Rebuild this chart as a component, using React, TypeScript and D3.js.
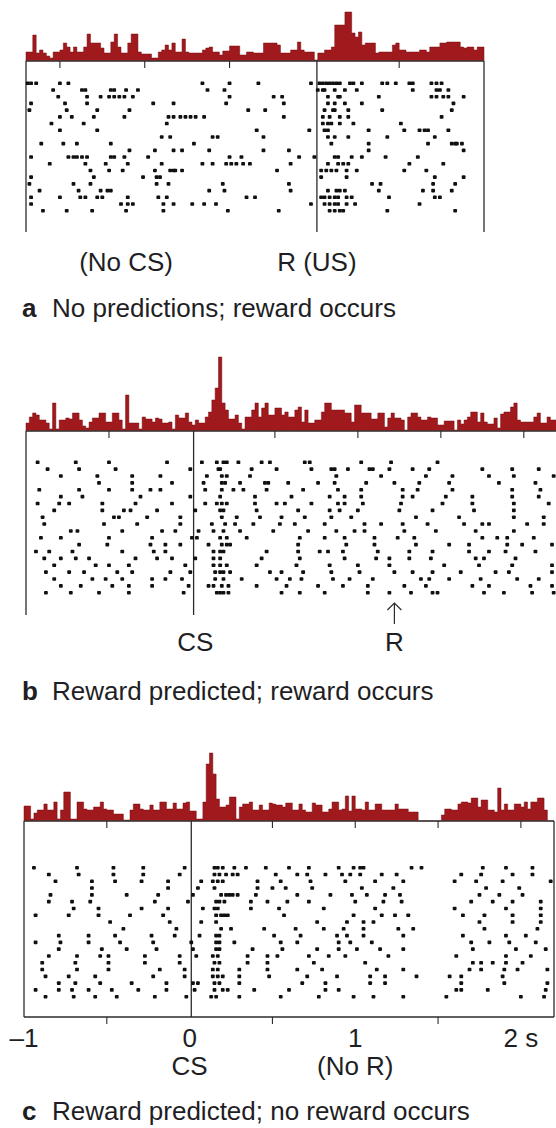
import React, { useRef, useEffect } from "react";
import * as d3 from "d3";

// bin width of the PSTH histograms (s)
const BIN = 0.02;

// ---- panel a : no CS, reward at t = 0 ----
const startA = -1.7;
const endA = 1.0;
const eventsA = [0.015];
const ticksA = [-1.5, -1, -0.5, 0.5];
const histA = [
  9, 9, 26, 8, 11, 8, 5, 3, 9, 9,
  11, 18, 14, 9, 14, 9, 9, 14, 27, 18,
  18, 18, 13, 8, 8, 19, 27, 14, 8, 8,
  18, 27, 27, 9, 7, 7, 7, 3, 3, 9,
  11, 16, 11, 18, 9, 9, 22, 9, 8, 8,
  8, 8, 11, 13, 14, 9, 9, 6, 10, 10,
  15, 15, 15, 6, 6, 9, 9, 8, 8, 8,
  18, 18, 18, 18, 16, 8, 8, 8, 11, 11,
  19, 11, 9, 9, 9, 1, 8, 8, 11, 11,
  14, 36, 36, 36, 49, 49, 28, 24, 29, 16,
  18, 18, 18, 8, 9, 9, 9, 9, 16, 18,
  11, 11, 9, 9, 9, 9, 11, 11, 9, 14,
  14, 14, 18, 18, 19, 19, 19, 19, 14, 13,
  14, 14, 11, 14, 14,
];
const rasterA = [
  [-1.69, -1.67, -1.64, -1.5, -1.45, -0.66, -0.5, -0.33, -0.02, 0.03, 0.05, 0.07, 0.09, 0.11, 0.13, 0.15, 0.21, 0.23, 0.28, 0.4, 0.43, 0.48, 0.56, 0.58, 0.69, 0.72, 0.75],
  [-1.54, -1.37, -1.35, -1.2, -1.18, -1.11, -1.04, -0.63, -0.53, 0.02, 0.05, 0.06, 0.12, 0.18, 0.25, 0.58, 0.72, 0.74, 0.79],
  [-1.51, -1.34, -1.26, -1.21, -1.18, -1.15, -1.12, -1.07, -0.5, -0.24, -0.19, 0.08, 0.14, 0.15, 0.38, 0.69, 0.72, 0.76, 0.79, 0.88],
  [-1.67, -1.47, -1.34, -0.95, -0.83, -0.52, -0.18, 0.08, 0.12, 0.18, 0.28, 0.82],
  [-1.68, -1.46, -1.28, -1.09, -0.39, -0.29, 0.06, 0.11, 0.12, 0.2, 0.4, 0.81],
  [-1.5, -1.43, -1.3, -1.12, -0.86, -0.83, -0.79, -0.76, -0.73, -0.7, -0.65, -0.18, 0.05, 0.09, 0.15, 0.2, 0.75],
  [-1.55, -1.36, -0.87, 0.05, 0.08, 0.1, 0.15, 0.23, 0.51],
  [-1.5, -1.28, -0.34, -0.03, 0.06, 0.08, 0.32, 0.53, 0.62, 0.65, 0.67, 0.79],
  [-0.9, -0.85, -0.6, -0.57, -0.3, 0.08, 0.12, 0.2, 0.43, 0.71],
  [-1.61, -1.48, -1.4, -1.2, -0.71, 0.1, 0.32, 0.67, 0.81, 0.83, 0.84, 0.87],
  [-1.09, -0.94, -0.83, -0.78, -0.62, -0.3, -0.15, 0.32, 0.88],
  [-1.67, -1.45, -1.42, -1.4, -1.37, -1.34, -1.2, -1.18, -1.12, -0.98, -0.5, -0.43, -0.09, 0.0, 0.12, 0.14, 0.22, 0.28, 0.42, 0.61],
  [-1.56, -1.35, -1.23, -1.1, -0.9, -0.66, -0.6, -0.52, -0.49, -0.46, -0.42, -0.38, -0.14, 0.08, 0.14, 0.17, 0.2, 0.56, 0.76],
  [-1.32, -1.21, -1.13, -0.94, -0.85, -0.83, -0.82, -0.78, -0.22, 0.04, 0.07, 0.1, 0.13, 0.19, 0.25, 0.53, 0.66],
  [-1.67, -1.3, -1.01, -0.93, -0.91, 0.04, 0.19, 0.71, 0.88],
  [-1.68, -1.42, -1.32, -0.93, -0.86, -0.54, -0.15, 0.34, 0.39, 0.7, 0.83],
  [-1.62, -1.39, -1.26, -1.22, -1.2, -0.62, -0.53, -0.14, 0.08, 0.13, 0.15, 0.18, 0.38, 0.64, 0.7, 0.81],
  [-1.67, -1.5, -1.38, -1.35, -1.28, -1.25, -1.1, -0.92, -0.87, -0.4, -0.35, 0.04, 0.06, 0.09, 0.12, 0.14, 0.19, 0.22, 0.44, 0.71, 0.74],
  [-1.67, -1.14, -1.1, -1.07, -0.89, -0.83, -0.72, -0.65, -0.58, -0.02, 0.06, 0.09, 0.12, 0.14, 0.19, 0.24, 0.62],
  [-1.6, -1.46, -1.31, -1.11, -0.89, -0.51, -0.21, 0.09, 0.12, 0.15, 0.17, 0.43, 0.83],
];
const labelsA = ["(No CS)", "R (US)"];
const labelTimesA = [-1.11, 0.015];

// ---- panel b : CS at t = 0, reward predicted and delivered ----
const startB = -1;
const endB = 2.2;
const eventsB = [0.01];
const ticksB = [-0.5, 0.5, 1, 1.5, 2];
const rewardB = 1.22;
const histB = [
  8, 14, 18, 16, 11, 11, 8, 2, 28, 2,
  11, 11, 13, 12, 18, 18, 11, 5, 3, 9,
  13, 13, 18, 18, 9, 9, 18, 18, 11, 2,
  36, 8, 8, 8, 2, 14, 12, 12, 9, 13,
  12, 8, 8, 9, 2, 16, 13, 13, 18, 9,
  6, 11, 8, 8, 14, 19, 31, 43, 74, 28,
  21, 12, 12, 16, 8, 2, 14, 14, 21, 28,
  14, 23, 28, 16, 16, 23, 23, 16, 19, 14,
  14, 21, 24, 9, 21, 8, 8, 11, 11, 19,
  28, 28, 21, 21, 21, 21, 18, 18, 9, 26,
  26, 18, 18, 18, 12, 12, 18, 18, 4, 13,
  18, 13, 13, 11, 1, 14, 18, 18, 14, 11,
  11, 14, 13, 13, 6, 6, 10, 10, 10, 1,
  11, 7, 11, 14, 19, 19, 9, 18, 9, 7,
  7, 13, 3, 17, 19, 19, 24, 28, 11, 9,
  9, 9, 9, 14, 18, 8, 8, 14, 11, 11,
];
const rasterB = [
  [-0.93, -0.7, -0.5, -0.15, 0.06, 0.15, 0.19, 0.21, 0.28, 0.42, 0.47, 0.68, 0.71, 1.02, 1.2, 1.48],
  [-0.87, -0.68, -0.46, -0.01, 0.16, 0.17, 0.36, 0.51, 0.72, 0.84, 0.86, 0.94, 1.07, 1.09, 1.19, 1.33, 1.43, 1.75, 1.93, 2.09],
  [-0.79, -0.57, -0.36, -0.19, 0.09, 0.18, 0.21, 0.35, 0.87, 1.14, 1.41, 1.57, 1.79, 1.94, 2.18],
  [-0.56, -0.36, -0.12, 0.07, 0.18, 0.2, 0.29, 0.44, 0.46, 0.58, 0.76, 0.86, 1.05, 1.22, 1.37, 1.55, 1.85, 2.07],
  [-0.92, -0.68, -0.5, -0.36, -0.25, -0.19, 0.08, 0.18, 0.25, 0.31, 0.45, 0.67, 0.88, 1.02, 1.27, 1.36, 1.57, 1.93, 2.1],
  [-0.79, -0.66, -0.31, -0.01, 0.17, 0.38, 0.6, 0.83, 0.92, 1.02, 1.27, 1.33, 1.53, 1.69, 1.93, 2.09],
  [-0.93, -0.8, -0.74, -0.54, -0.34, -0.12, 0.08, 0.15, 0.18, 0.21, 0.38, 0.51, 0.56, 0.72, 0.88, 0.92, 1.03, 1.26, 1.51, 1.69, 1.94, 2.15],
  [-0.83, -0.54, -0.41, -0.37, -0.21, 0.02, 0.17, 0.19, 0.39, 0.64, 0.83, 0.89, 1.0, 1.25, 1.45, 1.7, 1.94],
  [-0.9, -0.47, -0.44, -0.27, -0.07, 0.18, 0.27, 0.41, 0.54, 0.68, 0.84, 0.96, 1.35, 1.61, 1.94, 2.12],
  [-0.89, -0.53, -0.33, -0.07, 0.12, 0.2, 0.26, 0.37, 0.53, 0.62, 0.8, 1.04, 1.14, 1.27, 1.42, 1.64, 1.75, 1.79, 2.02, 2.12],
  [-0.73, -0.69, -0.42, -0.18, -0.1, 0.04, 0.13, 0.19, 0.29, 0.49, 0.7, 0.87, 0.98, 1.04, 1.28, 1.47, 1.71, 1.94],
  [-0.91, -0.79, -0.5, -0.24, 0.0, 0.03, 0.17, 0.21, 0.33, 0.65, 0.8, 0.92, 1.1, 1.24, 1.34, 1.75, 1.84, 1.9, 2.06],
  [-0.68, -0.51, -0.25, -0.16, -0.07, 0.1, 0.18, 0.21, 0.23, 0.64, 0.93, 1.1, 1.35, 1.55, 1.67, 1.9, 1.99, 2.17],
  [-0.94, -0.86, -0.72, -0.42, -0.23, -0.16, 0.13, 0.17, 0.19, 0.45, 0.64, 0.77, 0.82, 0.91, 1.12, 1.31, 1.45, 1.67, 1.79, 1.89, 2.07],
  [-0.89, -0.79, -0.7, -0.62, -0.34, -0.21, -0.12, 0.02, 0.13, 0.17, 0.42, 0.65, 0.92, 1.11, 1.19, 1.31, 1.44, 1.71, 1.76, 1.95],
  [-0.83, -0.58, -0.5, -0.38, -0.04, 0.13, 0.17, 0.21, 0.39, 0.63, 0.83, 1.0, 1.19, 1.52, 1.73, 1.93, 2.17],
  [-0.88, -0.74, -0.65, -0.45, -0.36, -0.13, -0.01, 0.14, 0.17, 0.19, 0.23, 0.47, 0.54, 0.67, 0.84, 1.01, 1.22, 1.33, 1.45, 1.62, 1.83, 1.91, 2.17],
  [-0.83, -0.6, -0.52, -0.42, -0.24, -0.16, -0.06, 0.14, 0.19, 0.3, 0.51, 0.59, 0.66, 0.85, 0.95, 1.09, 1.38, 1.43, 1.55, 1.74, 1.96, 2.09],
  [-0.79, -0.67, -0.48, -0.38, -0.24, -0.02, 0.1, 0.13, 0.18, 0.22, 0.39, 0.57, 0.76, 0.91, 1.06, 1.28, 1.41, 1.69, 1.79, 2.04, 2.17],
  [-0.88, -0.73, -0.56, -0.38, -0.05, 0.15, 0.17, 0.19, 0.22, 0.54, 0.65, 0.8, 1.06, 1.19, 1.32, 1.45, 1.48, 1.76, 1.88, 2.05, 2.18],
];
const labelsB = ["CS", "R"];
const labelTimesB = [0.02, rewardB];

// ---- panel c : CS at t = 0, reward predicted but omitted ----
const startC = -1;
const endC = 2.2;
const eventsC = [0.01];
const ticksC = [-0.5, 0.5, 1, 1.5, 2];
const axisTicksC = [-0.5, 0.5, 1.5];
const tickValuesC = [-1, 0, 1, 2];
const tickLabelsC = ["\u20131", "0", "1", "2 s"];
const histC = [
  15, 15, 2, 8, 11, 11, 17, 11, 11, 19,
  2, 11, 29, 29, 2, 2, 19, 19, 12, 11,
  11, 14, 14, 19, 12, 11, 11, 7, 7, 7,
  1, 1, 11, 17, 17, 12, 11, 11, 16, 11,
  11, 19, 19, 12, 12, 18, 12, 12, 18, 19,
  10, 10, 2, 2, 19, 57, 68, 47, 22, 14,
  14, 16, 24, 24, 2, 14, 17, 17, 19, 11,
  11, 16, 11, 11, 18, 17, 16, 16, 14, 18,
  18, 11, 11, 17, 11, 9, 9, 18, 16, 16,
  9, 9, 12, 19, 19, 11, 12, 25, 10, 25,
  12, 12, 11, 19, 11, 11, 17, 17, 11, 11,
  11, 11, 17, 12, 12, 12, 9, 9, 9, 0,
  0, 0, 0, 0, 0, 0, 6, 12, 12, 11,
  11, 17, 19, 19, 18, 23, 23, 14, 21, 21,
  11, 11, 9, 33, 11, 17, 11, 11, 17, 17,
  14, 19, 12, 19, 19, 23, 23, 11, 0, 0,
];
const rasterC = [
  [-0.94, -0.68, -0.46, -0.28, -0.03, 0.15, 0.17, 0.2, 0.27, 0.34, 0.46, 0.6, 0.72, 0.9, 0.99, 1.03, 1.05, 1.34, 1.4, 1.77, 1.91, 2.07],
  [-0.85, -0.67, -0.46, -0.28, -0.06, 0.15, 0.18, 0.22, 0.26, 0.29, 0.52, 0.65, 0.71, 0.82, 0.92, 0.97, 1.03, 1.16, 1.25, 1.64, 1.76, 1.95, 2.07],
  [-0.81, -0.59, -0.45, -0.29, -0.13, 0.07, 0.14, 0.17, 0.2, 0.41, 0.55, 0.73, 0.94, 1.12, 1.29, 1.6, 1.73, 1.89, 2.18],
  [-0.59, -0.13, 0.05, 0.15, 0.41, 0.5, 0.58, 0.74, 1.04, 1.23, 1.79, 1.99],
  [-0.84, -0.59, -0.38, -0.19, 0.02, 0.19, 0.22, 0.24, 0.26, 0.29, 0.4, 0.65, 0.85, 0.98, 1.07, 1.18, 1.27, 1.75, 1.87, 2.01],
  [-0.85, -0.71, -0.6, -0.21, -0.01, 0.16, 0.18, 0.21, 0.37, 0.47, 0.59, 0.72, 1.0, 1.17, 1.28, 1.7, 1.83, 1.95, 2.12],
  [-0.7, -0.55, -0.29, -0.13, 0.08, 0.15, 0.17, 0.37, 0.54, 0.81, 1.12, 1.6, 1.91, 2.12],
  [-0.93, -0.73, -0.55, -0.36, -0.16, 0.16, 0.19, 0.21, 0.23, 0.57, 0.99, 1.16, 1.24, 1.32, 1.65, 1.78, 1.95, 2.12],
  [-0.48, -0.12, 0.07, 0.16, 0.77, 0.95, 1.05, 1.11, 1.75, 1.95, 2.12],
  [-0.4, -0.08, 0.19, 0.25, 0.45, 0.64, 0.81, 0.93, 1.05, 1.26, 1.35, 1.78, 2.1],
  [-0.79, -0.61, -0.45, -0.23, -0.09, 0.06, 0.16, 0.18, 0.51, 0.67, 0.89, 0.95, 1.05, 1.29, 1.65, 1.91, 2.03],
  [-0.93, -0.78, -0.61, -0.42, -0.22, 0.01, 0.16, 0.18, 0.27, 0.55, 0.65, 0.9, 0.97, 1.1, 1.7, 1.81, 1.93, 2.09],
  [-0.79, -0.53, -0.38, -0.2, 0.02, 0.16, 0.18, 0.38, 0.56, 0.77, 0.9, 1.01, 1.15, 1.29, 1.71, 1.97, 2.15],
  [-0.85, -0.68, -0.54, -0.49, -0.27, -0.06, 0.04, 0.14, 0.17, 0.35, 0.47, 0.53, 0.72, 0.84, 0.94, 1.2, 1.61, 1.91, 2.06],
  [-0.89, -0.69, -0.49, -0.27, -0.06, 0.15, 0.18, 0.35, 0.47, 0.75, 1.06, 1.71, 1.76, 1.83, 1.91, 2.01],
  [-0.89, -0.68, -0.49, -0.18, -0.03, 0.14, 0.17, 0.3, 0.47, 0.65, 0.8, 1.13, 1.29, 1.69, 1.76, 1.9, 1.98, 2.16],
  [-0.87, -0.73, -0.57, -0.22, -0.03, 0.14, 0.17, 0.2, 0.3, 0.48, 0.71, 0.89, 1.09, 1.18, 1.37, 1.57, 1.64, 1.89],
  [-0.79, -0.69, -0.54, -0.35, -0.14, 0.02, 0.05, 0.15, 0.18, 0.3, 0.68, 0.82, 1.09, 1.18, 1.64, 1.9, 2.16],
  [-0.93, -0.79, -0.71, -0.61, -0.47, -0.31, -0.14, 0.03, 0.15, 0.2, 0.23, 0.39, 0.6, 0.82, 0.9, 1.61, 1.64, 1.8, 2.15],
  [-0.87, -0.7, -0.57, -0.44, -0.21, -0.02, 0.13, 0.16, 0.3, 0.55, 0.78, 0.99, 1.11, 1.29, 1.55, 2.0, 2.14],
];
const labelsC = ["CS", "(No R)"];
const labelTimesC = [0.0, 1.0];

const captions = [
  ["a", "No predictions; reward occurs"],
  ["b", "Reward predicted; reward occurs"],
  ["c", "Reward predicted; no reward occurs"],
];

const W = 556;
const H = 1128;
const RED = "#a0191d";
const INK = "#1e1e24";
const LINE = "#2b2b2b";
const FONT = "'Liberation Sans', Arial, Helvetica, sans-serif";

const App = () => {
  const svgRef = useRef<SVGSVGElement>(null);

  const drawPanel = (svg: any, o: any) => {
    const g = svg.append("g");
    const x = o.x;
    const y = d3.scaleLinear().domain([0, 80]).range([o.base, o.base - 80]);

    // PSTH
    const pts: [number, number][] = o.hist.map((v: number, i: number) => [o.t0 + i * BIN, v]);
    pts.push([o.t0 + o.hist.length * BIN, o.hist[o.hist.length - 1]]);
    const area = d3.area<[number, number]>()
      .curve(d3.curveStepAfter)
      .x(d => x(d[0]))
      .y0(o.base)
      .y1(d => y(d[1]));
    g.append("path")
      .attr("d", area(pts))
      .attr("fill", RED)
      .attr("stroke", "#7a0d11")
      .attr("stroke-width", 0.5);

    // baseline
    g.append("line")
      .attr("x1", x.range()[0]).attr("x2", o.right)
      .attr("y1", o.base).attr("y2", o.base)
      .attr("stroke", "#3a3a3a").attr("stroke-width", 1.6);

    // ticks under the histogram
    g.selectAll(".tk")
      .data(o.ticks)
      .enter()
      .append("line")
      .attr("x1", (d: number) => x(d)).attr("x2", (d: number) => x(d))
      .attr("y1", o.base).attr("y2", o.base + 7)
      .attr("stroke", LINE).attr("stroke-width", 1.1);

    // frame lines: left edge, events, optional right edge
    const verts = [x.range()[0], ...o.events.map((e: number) => x(e))];
    if (o.rightLine) verts.push(o.right);
    g.selectAll(".vl")
      .data(verts)
      .enter()
      .append("line")
      .attr("x1", (d: number) => d).attr("x2", (d: number) => d)
      .attr("y1", o.base).attr("y2", o.lineEnd)
      .attr("stroke", LINE).attr("stroke-width", 1.3);

    // raster
    const row = d3.scaleLinear().domain([0, o.raster.length - 1]).range([o.rowTop, o.rowBottom]);
    o.raster.forEach((spikes: number[], i: number) => {
      g.append("g")
        .selectAll("rect")
        .data(spikes)
        .enter()
        .append("rect")
        .attr("x", (d: number) => x(d) - 1.9)
        .attr("y", row(i) - 1.8)
        .attr("width", 3.8)
        .attr("height", 3.6)
        .attr("rx", 0.9)
        .attr("fill", "#101010");
    });
    return g;
  };

  const text = (g: any, x: number, y: number, s: string) =>
    g.append("text")
      .attr("x", x).attr("y", y)
      .attr("text-anchor", "middle")
      .attr("font-family", FONT)
      .attr("font-size", 26)
      .attr("fill", INK)
      .text(s);

  const caption = (g: any, y: number, c: string[]) => {
    const t = g.append("text")
      .attr("x", 22).attr("y", y)
      .attr("font-family", FONT)
      .attr("font-size", 26)
      .attr("fill", INK);
    t.append("tspan").attr("font-weight", "bold").text(c[0]);
    t.append("tspan").attr("x", 52).text(c[1]);
  };

  useEffect(() => {
    const svg = d3.select(svgRef.current);
    svg.selectAll("*").remove();
    svg.append("rect").attr("width", W).attr("height", H).attr("fill", "#fff");

    // panel a
    const xA = d3.scaleLinear().domain([startA, endA]).range([26, 484]);
    const gA = drawPanel(svg, {
      x: xA, t0: startA, hist: histA, raster: rasterA, base: 61,
      rowTop: 83.3, rowBottom: 210.7, lineEnd: 232, events: eventsA,
      ticks: ticksA, right: 484, rightLine: true,
    });
    labelsA.forEach((s, i) => text(gA, xA(labelTimesA[i]), 271, s));
    caption(gA, 317, captions[0]);

    // panel b
    const xB = d3.scaleLinear().domain([startB, endB]).range([26, 557]);
    const gB = drawPanel(svg, {
      x: xB, t0: startB, hist: histB, raster: rasterB, base: 431,
      rowTop: 462.3, rowBottom: 592.7, lineEnd: 615, events: eventsB,
      ticks: ticksB, right: W, rightLine: false,
    });
    labelsB.forEach((s, i) => text(gB, xB(labelTimesB[i]), 651, s));
    const ax = xB(rewardB);
    gB.append("line")
      .attr("x1", ax).attr("x2", ax).attr("y1", 603).attr("y2", 624)
      .attr("stroke", LINE).attr("stroke-width", 1.2);
    gB.append("path")
      .attr("d", `M${ax - 7},${610} L${ax},${603} L${ax + 7},${610}`)
      .attr("fill", "none").attr("stroke", LINE).attr("stroke-width", 1.2);
    caption(gB, 700, captions[1]);

    // panel c
    const xC = d3.scaleLinear().domain([startC, endC]).range([24, 554]);
    const gC = drawPanel(svg, {
      x: xC, t0: startC, hist: histC, raster: rasterC, base: 821,
      rowTop: 867.7, rowBottom: 996.7, lineEnd: 1017, events: eventsC,
      ticks: ticksC, right: 554, rightLine: true,
    });
    gC.append("line")
      .attr("x1", 24).attr("x2", 554).attr("y1", 1017).attr("y2", 1017)
      .attr("stroke", LINE).attr("stroke-width", 1.3);
    gC.selectAll(".bt")
      .data(axisTicksC)
      .enter()
      .append("line")
      .attr("x1", (d: number) => xC(d)).attr("x2", (d: number) => xC(d))
      .attr("y1", 1017).attr("y2", 1024)
      .attr("stroke", LINE).attr("stroke-width", 1.1);
    tickValuesC.forEach((v, i) => text(gC, xC(v), 1047, tickLabelsC[i]));
    labelsC.forEach((s, i) => text(gC, xC(labelTimesC[i]), 1075, s));
    caption(gC, 1120, captions[2]);
  }, []);

  return (
    <svg
      ref={svgRef}
      width={W}
      height={H}
      style={{ position: "absolute", left: 0, top: 0, display: "block" }}
    />
  );
};

export default App;
